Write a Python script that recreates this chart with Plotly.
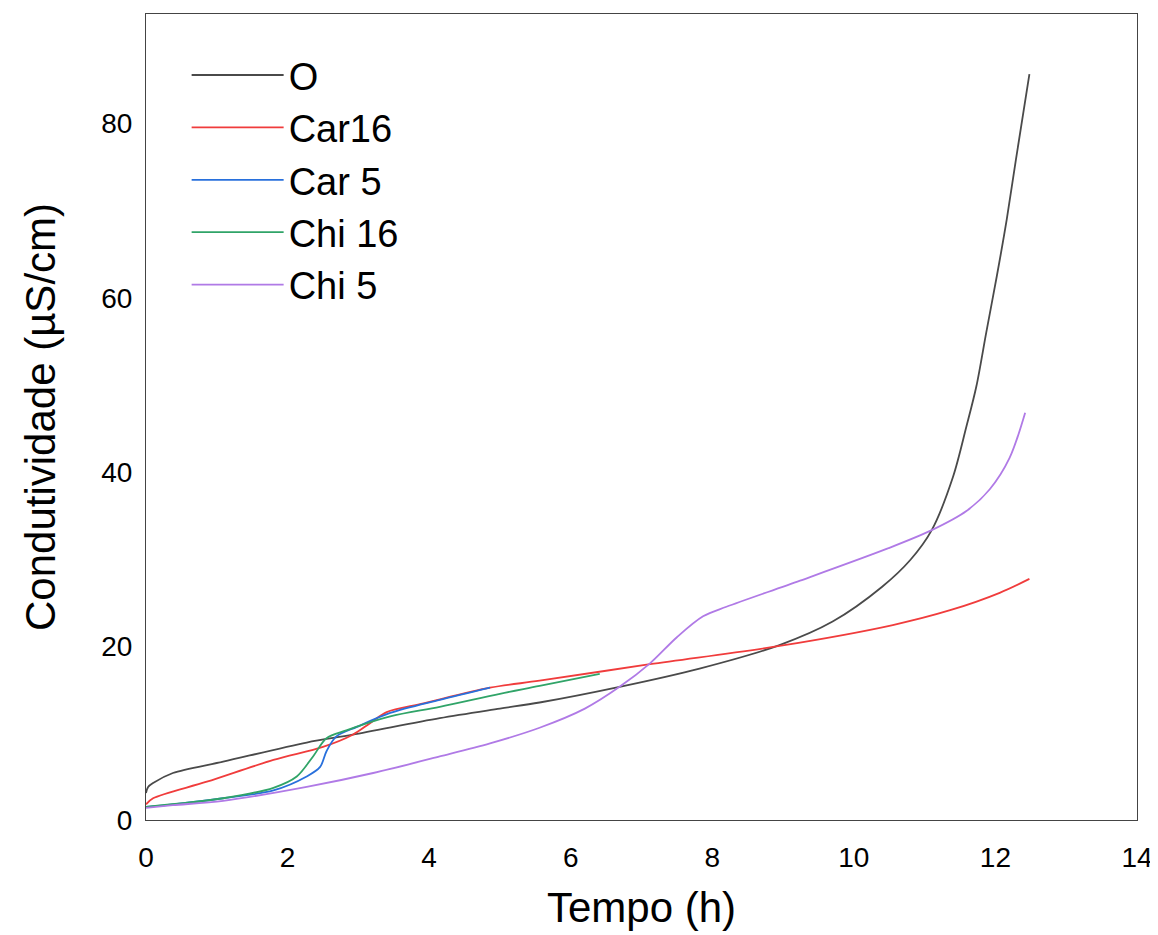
import plotly.graph_objects as go

# tempo (h) e condutividade (uS/cm)
t_O = [0, 0.03, 0.1, 0.38, 1.09, 2.27, 2.92, 4.15, 5.0, 5.56, 6.69, 7.82, 8.95, 9.7, 10.4, 10.8, 11.1, 11.4, 11.59, 11.73, 11.87, 12.02, 12.16, 12.29, 12.48]
v_O = [3.1, 3.8, 4.25, 5.4, 6.7, 8.9, 9.8, 11.7, 12.8, 13.5, 15.3, 17.4, 20.1, 22.8, 26.8, 29.9, 33.3, 39.4, 45.2, 49.8, 56.0, 62.5, 69.0, 75.9, 85.7]

t_car16 = [0, 0.1, 0.86, 1.8, 2.5, 2.92, 3.16, 3.4, 3.92, 4.86, 5.56, 7.12, 8.95, 10.55, 11.36, 12.06, 12.48]
v_car16 = [1.8, 2.5, 4.4, 6.9, 8.4, 9.8, 11.1, 12.4, 13.4, 15.2, 16.0, 17.9, 20.0, 22.4, 24.1, 26.1, 27.7]

t_car5 = [0, 0.38, 1.09, 1.8, 2.27, 2.46, 2.55, 2.69, 2.98, 3.45, 4.15, 4.86]
v_car5 = [1.5, 1.8, 2.5, 3.4, 5.0, 6.1, 7.9, 9.6, 10.7, 12.3, 13.8, 15.2]

t_chi16 = [0, 1.09, 1.8, 2.13, 2.36, 2.55, 2.83, 3.45, 4.15, 5.0, 5.56, 6.41]
v_chi16 = [1.5, 2.5, 3.7, 5.0, 7.3, 9.4, 10.3, 11.9, 13.0, 14.5, 15.4, 16.8]

t_chi5 = [0, 0.38, 1.09, 2.27, 3.21, 4.15, 4.86, 5.56, 6.2, 6.69, 7.12, 7.5, 7.87, 8.2, 9.24, 10.48, 11.1, 11.59, 11.92, 12.2, 12.42]
v_chi5 = [1.4, 1.7, 2.2, 3.8, 5.4, 7.3, 8.8, 10.6, 12.8, 15.3, 18.0, 21.0, 23.4, 24.5, 27.5, 31.2, 33.3, 35.5, 38.0, 41.6, 46.8]

series = [
    ("O", t_O, v_O, "#4a4a4a"),
    ("Car16", t_car16, v_car16, "#f03c3c"),
    ("Car 5", t_car5, v_car5, "#2870dc"),
    ("Chi 16", t_chi16, v_chi16, "#30a468"),
    ("Chi 5", t_chi5, v_chi5, "#b07ae6"),
]

fig = go.Figure()
for name, t, v, cor in series:
    fig.add_trace(go.Scatter(x=t, y=v, mode="lines", name=name,
                             line=dict(color=cor, width=1.8, shape="spline", smoothing=0.9)))

fig.update_layout(
    width=1158, height=935,
    margin=dict(l=138, r=29, t=6, b=123),
    paper_bgcolor="white", plot_bgcolor="white",
    font=dict(family="Liberation Sans, Arial", color="black", size=28),
    legend=dict(x=0.041, y=0.963, xanchor="left", yanchor="top",
                font=dict(size=38), itemwidth=92, tracegroupgap=0,
                bgcolor="rgba(0,0,0,0)"),
    showlegend=True,
)
fig.update_xaxes(range=[0, 14], dtick=2, showgrid=False, zeroline=False,
                 showline=True, linecolor="#444", linewidth=1.2, mirror=True,
                 ticks="", ticklabelstandoff=12, tickfont=dict(size=28),
                 title=dict(text="Tempo (h)", font=dict(size=42), standoff=20))
fig.update_yaxes(range=[0, 92.6], tickvals=[0, 20, 40, 60, 80], showgrid=False, zeroline=False,
                 showline=True, linecolor="#444", linewidth=1.2, mirror=True,
                 ticks="", ticklabelstandoff=7, tickfont=dict(size=28),
                 title=dict(text="Condutividade (µS/cm)", font=dict(size=42), standoff=32))

fig.write_html("out.html")
